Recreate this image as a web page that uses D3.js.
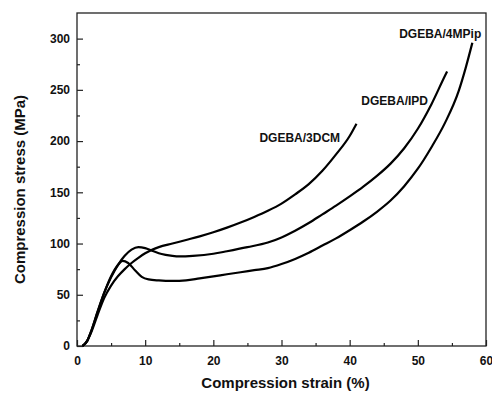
<!DOCTYPE html>
<html><head><meta charset="utf-8">
<script src="https://cdn.jsdelivr.net/npm/d3@7"></script>
<style>body{margin:0;background:#fff}svg{display:block}</style>
</head><body><svg id="c" width="492" height="393"></svg>
<script>
// Data (strain %, stress MPa)
const series3DCM = [[0.8,0],[1.5,5],[2,12],[3,30],[4,47],[5,59],[6,68],[7,75],[8,81],[9,86],[10,90.5],[11,94],[12,96.5],[14,100],[16,103.5],[18,107],[20,111],[22,115.5],[24,120.5],[26,126],[28,132],[30,139],[32,148],[34,158],[36,171],[38,187],[40,205],[41,217]];
const seriesIPD = [[0.8,0],[1.5,5],[2,13],[3,33],[4,52],[5,67],[6,79],[7,88],[8,94],[9,96.5],[10,95.5],[11,93],[12,90.5],[13,89],[14,88],[15,87.5],[17,88],[20,90],[22,92.5],[25,96.5],[28,101],[30,106],[32,112.5],[34,120],[36,128.5],[38,137],[40,146],[42,155.5],[44,166],[46,178],[48,193],[50,212],[52,236],[54,264],[54.3,268]];
const series4MPip = [[0.8,0],[1.5,5],[2,13],[3,33],[4,52],[5,68],[6,79],[6.7,83],[7.5,81],[8.5,74],[9.5,67.5],[10.5,65],[12,64],[14,63.5],[16,64],[18,66],[20,68],[22,70],[24,72],[26,74],[28,76],[30,80],[32,85],[34,91],[36,98],[38,105],[40,113],[42,121.5],[44,131],[46,142],[48,156],[50,173],[52,194],[54,218],[56,249],[57,271],[58,296]];
const seriesNames = ["DGEBA/3DCM","DGEBA/IPD","DGEBA/4MPip"];
const labelAnchors = [[38.6,199],[51.5,235],[59.3,301]]; // right end of label (strain, stress)
const xTicks = [0,10,20,30,40,50,60];
const yTicks = [0,50,100,150,200,250,300];

const svg = d3.select("#c");
const L=77,R=486,T=13,B=346;
const x = d3.scaleLinear().domain([0,60]).range([L,R]);
const y = d3.scaleLinear().domain([0,325]).range([B,T]);
const font = "'Liberation Sans', Arial, sans-serif";

// frame
svg.append("rect").attr("x",L).attr("y",T).attr("width",R-L).attr("height",B-T)
  .attr("fill","none").attr("stroke","#222").attr("stroke-width",1.3);

// ticks
svg.append("g").attr("transform",`translate(0,${B})`)
  .call(d3.axisBottom(x).tickValues(d3.range(5,60,10)).tickSize(-3).tickFormat(""));
svg.append("g").attr("transform",`translate(0,${B})`)
  .call(d3.axisBottom(x).tickValues(xTicks).tickSize(-6).tickPadding(10).tickFormat(d3.format("d")));
svg.append("g").attr("transform",`translate(${L},0)`)
  .call(d3.axisLeft(y).tickValues(d3.range(25,325,50)).tickSize(-3).tickFormat(""));
svg.append("g").attr("transform",`translate(${L},0)`)
  .call(d3.axisLeft(y).tickValues(yTicks).tickSize(-6).tickPadding(7).tickFormat(d3.format("d")));
svg.selectAll(".domain").remove();
svg.selectAll(".tick line").attr("stroke","#222").attr("stroke-width",1.2);
svg.selectAll(".tick text").attr("font-family",font).attr("font-weight","bold").attr("font-size",12).attr("fill","#111");

// curves
const line = d3.line().x(d=>x(d[0])).y(d=>y(d[1])).curve(d3.curveMonotoneX);
[series3DCM, seriesIPD, series4MPip].forEach(s=>{
  svg.append("path").datum(s).attr("d",line).attr("fill","none").attr("stroke","#000").attr("stroke-width",2.2).attr("stroke-linejoin","round");
});

// labels
seriesNames.forEach((n,i)=>{
  svg.append("text").attr("x",x(labelAnchors[i][0])).attr("y",y(labelAnchors[i][1]))
    .attr("text-anchor","end").attr("font-family",font).attr("font-weight","bold").attr("font-size",12).attr("fill","#111").text(n);
});

// axis titles
svg.append("text").attr("x",(L+R)/2+4).attr("y",388).attr("text-anchor","middle")
  .attr("font-family",font).attr("font-weight","bold").attr("font-size",15).attr("fill","#111").text("Compression strain (%)");
svg.append("text").attr("transform",`translate(25,${(T+B)/2+10}) rotate(-90)`).attr("text-anchor","middle")
  .attr("font-family",font).attr("font-weight","bold").attr("font-size",15).attr("fill","#111").text("Compression stress (MPa)");
</script></body></html>
